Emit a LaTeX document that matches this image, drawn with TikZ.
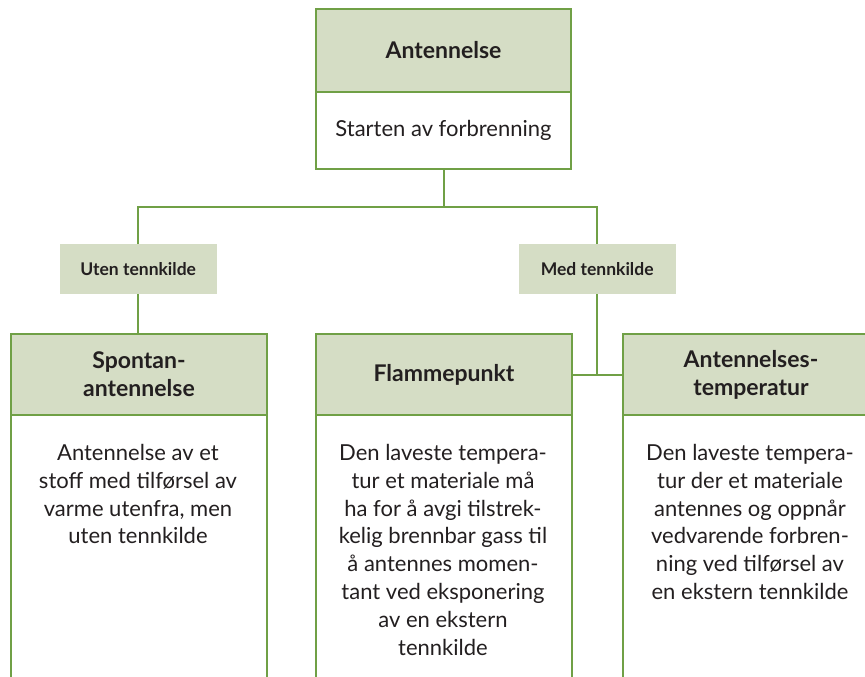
\documentclass[tikz,border=0pt]{standalone}
\usepackage{fontspec}
\setmainfont{Lato}
\definecolor{lgreen}{HTML}{70A046}
\definecolor{hfill}{HTML}{D5DDC5}
\definecolor{txt}{HTML}{231F20}
\tikzset{
  hbox/.style={draw=lgreen, line width=2pt, fill=hfill, anchor=north west, inner sep=0pt,
    text=txt, align=center, font=\fontsize{23}{28}\selectfont\bfseries},
  bbox/.style={draw=lgreen, line width=2pt, fill=white, anchor=north west, inner sep=0pt},
  lab/.style={fill=hfill, anchor=north west, inner sep=0pt, minimum width=157pt, minimum height=50pt,
    text=txt, font=\fontsize{17.5}{20}\selectfont\bfseries},
  btext/.style={anchor=north, inner sep=0pt, text=txt, align=center, font=\fontsize{22}{27.8}\selectfont},
  conn/.style={draw=lgreen, line width=2pt}
}
\begin{document}
\begin{tikzpicture}[x=1pt,y=-1pt]
\useasboundingbox (0,0) rectangle (865,677);
\clip (0,0) rectangle (865,677);
% top box
\node[bbox, minimum width=255pt, minimum height=77pt] (b0) at (315,91) {};
\node[hbox, minimum width=255pt, minimum height=83pt] (h0) at (315,8) {Antennelse};
\node[text=txt, font=\fontsize{22}{28}\selectfont, inner sep=0pt] (t0) at (b0.center) {Starten av forbrenning};
% labels
\node[lab] (l1) at (59.5,244) {Uten tennkilde};
\node[lab] (l2) at (518.5,244) {Med tennkilde};
% column boxes
\node[bbox, minimum width=256pt, minimum height=300pt] (b1) at (10,414) {};
\node[hbox, minimum width=256pt, minimum height=81pt] (h1) at (10,333) {Spontan-\\antennelse};
\node[bbox, minimum width=256pt, minimum height=300pt] (b2) at (315,414) {};
\node[hbox, minimum width=256pt, minimum height=81pt] (h2) at (315,333) {Flammepunkt};
\node[bbox, minimum width=256pt, minimum height=300pt] (b3) at (622,414) {};
\node[hbox, minimum width=256pt, minimum height=81pt] (h3) at (622,333) {Antennelses-\\temperatur};
% body texts
\node[btext] (t1) at (138,444) {Antennelse av et\\stoff med tilførsel av\\varme utenfra, men\\uten tennkilde};
\node[btext] (t2) at (443,444) {Den laveste tempera-\\tur et materiale må\\ha for å avgi tilstrek-\\kelig brennbar gass til\\å antennes momen-\\tant ved eksponering\\av en ekstern\\tennkilde};
\node[btext] (t3) at (750,444) {Den laveste tempera-\\tur der et materiale\\antennes og oppnår\\vedvarende forbren-\\ning ved tilførsel av\\en ekstern tennkilde};
% connectors
\coordinate (jt) at (444,207);
\draw[conn] (b0.south -| jt) -- (jt);
\draw[conn] (l1.north) -- (l1.north |- jt) -- (jt -| l2.north) -- (l2.north);
\draw[conn] (l1.south) -- (l1.south |- h1.north);
\draw[conn] (l2.south) -- (l2.south |- h2.east);
\draw[conn] (h2.east) -- (h3.west);
\end{tikzpicture}
\end{document}
